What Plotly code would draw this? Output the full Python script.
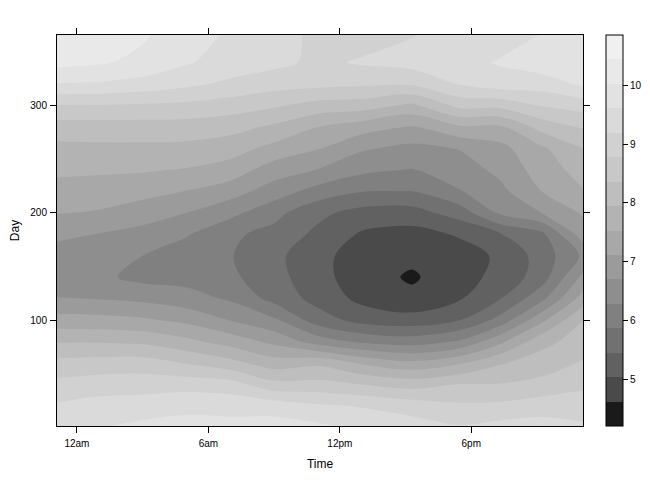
import numpy as np
import plotly.graph_objects as go

# day of year (rows) and time of day in hours (columns)
days = [1, 20, 40, 60, 80, 100, 120, 140, 160, 180, 200, 220, 240, 260, 280, 300, 320, 340, 366]
hours = [-0.91, 1, 3, 5, 7, 9, 11, 13, 15.3, 17.5, 19.3, 21.2, 23.1]

# values, one list per time column, day 1 first
col_00 = [9.5, 9.24, 8.9, 8.48, 7.91, 7.27, 6.72, 6.4, 6.45, 6.82, 7.13, 7.4, 7.6, 7.83, 8.17, 8.76, 9.58, 10.15, 10.3]
col_01 = [9.58, 9.36, 8.98, 8.53, 7.91, 7.24, 6.68, 6.38, 6.42, 6.68, 7.08, 7.3, 7.6, 7.85, 8.18, 8.76, 9.55, 10.07, 10.2]
col_02 = [9.7, 9.4, 9.0, 8.55, 7.85, 7.17, 6.6, 6.15, 6.28, 6.55, 6.9, 7.25, 7.57, 7.85, 8.18, 8.72, 9.45, 9.92, 10.08]
col_03 = [9.75, 9.5, 9.02, 8.33, 7.63, 7.0, 6.45, 6.12, 6.05, 6.32, 6.7, 7.1, 7.5, 7.83, 8.17, 8.68, 9.28, 9.65, 9.8]
col_04 = [9.73, 9.47, 8.95, 8.08, 7.35, 6.68, 6.22, 5.95, 5.89, 5.95, 6.4, 6.88, 7.35, 7.7, 8.1, 8.57, 9.11, 9.42, 9.55]
col_05 = [9.78, 9.42, 8.5, 7.72, 7.0, 6.35, 5.72, 5.6, 5.55, 5.72, 6.0, 6.5, 6.9, 7.4, 7.87, 8.42, 8.95, 9.3, 9.35]
col_06 = [9.68, 9.25, 8.5, 7.85, 6.5, 5.65, 5.3, 5.18, 5.18, 5.35, 5.55, 6.11, 6.68, 7.14, 7.53, 8.2, 8.9, 9.1, 9.1]
col_07 = [9.5, 9.16, 8.36, 7.47, 6.2, 5.3, 4.92, 4.8, 4.8, 4.98, 5.3, 5.88, 6.38, 6.75, 7.3, 8.15, 8.85, 9.24, 9.0]
col_08 = [9.38, 9.0, 8.2, 7.21, 6.08, 5.2, 4.72, 4.56, 4.72, 4.88, 5.28, 5.86, 6.26, 6.58, 7.08, 7.85, 8.85, 9.35, 9.17]
col_09 = [9.22, 8.85, 8.38, 7.48, 6.33, 5.45, 5.0, 4.88, 4.85, 5.08, 5.65, 6.26, 6.5, 6.72, 7.47, 8.5, 9.22, 9.45, 9.4]
col_10 = [9.32, 8.87, 8.38, 7.9, 7.0, 6.0, 5.43, 5.15, 5.1, 5.42, 6.35, 6.58, 6.8, 6.98, 7.45, 8.5, 9.4, 9.65, 9.4]
col_11 = [9.35, 9.0, 8.48, 8.15, 7.8, 7.0, 6.15, 5.65, 5.62, 5.75, 6.7, 7.11, 7.3, 7.45, 8.1, 8.8, 9.4, 9.85, 9.62]
col_12 = [9.25, 8.98, 8.7, 8.4, 8.15, 7.94, 7.3, 6.8, 6.35, 6.92, 7.16, 7.5, 7.7, 7.94, 8.4, 8.95, 9.68, 9.85, 9.95]

band_colors = ["#1a1a1a", "#4a4a4a", "#616161", "#717171", "#808080", "#8e8e8e", "#9b9b9b", "#a8a8a8",
               "#b3b3b3", "#bebebe", "#c8c8c8", "#d1d1d1", "#dadada", "#e2e2e2", "#e9e9e9", "#f0f0f0"]

z_lo = 4.2
z_step = 0.416
n = len(band_colors)

z = np.array([col_00, col_01, col_02, col_03, col_04, col_05, col_06,
              col_07, col_08, col_09, col_10, col_11, col_12]).T

# stepped greys, one per level
scale = []
for i, c in enumerate(band_colors):
    scale.append([i / n, c])
    scale.append([(i + 1) / n, c])

fig = go.Figure(go.Contour(
    x=hours, y=days, z=z,
    autocontour=False,
    contours=dict(start=z_lo + z_step, end=z_lo + z_step * (n - 1), size=z_step, coloring="fill", showlines=False),
    line=dict(width=0),
    colorscale=scale, zmin=z_lo, zmax=z_lo + z_step * n,
    colorbar=dict(x=1.0437, xanchor="left", xpad=0, ypad=0, y=0.5, yanchor="middle", len=1, lenmode="fraction",
                  thickness=17, outlinewidth=1, outlinecolor="black",
                  ticks="outside", ticklen=5, tickwidth=1, tickcolor="black",
                  tickvals=[5, 6, 7, 8, 9, 10], ticktext=["5", "6", "7", "8", "9", "10"],
                  tickfont=dict(family="Liberation Sans", size=10, color="black")),
    hoverinfo="skip",
))

axis_style = dict(showgrid=False, zeroline=False, showline=True, linecolor="black", linewidth=1, mirror="ticks",
                  ticks="outside", ticklen=6, tickwidth=1, tickcolor="black",
                  tickfont=dict(family="Liberation Sans", size=10, color="black"))

fig.update_xaxes(range=[-0.91, 23.1], tickvals=[0, 6, 12, 18], ticktext=["12am", "6am", "12pm", "6pm"],
                 ticklabelstandoff=2,
                 title=dict(text="Time", font=dict(family="Liberation Sans", size=12, color="black"), standoff=11),
                 **axis_style)
fig.update_yaxes(range=[1.2, 365.7], tickvals=[100, 200, 300], ticktext=["100", "200", "300"],
                 ticklabelstandoff=1,
                 title=dict(text="Day", font=dict(family="Liberation Sans", size=12, color="black")),
                 **axis_style)

# the page sits 8px in from the window corner, so margins are 8 less on left/top
fig.update_layout(width=642, height=472, margin=dict(l=49, r=67, t=27, b=54, autoexpand=False),
                  paper_bgcolor="white", plot_bgcolor="white", showlegend=False)

fig.write_html("out.html")
